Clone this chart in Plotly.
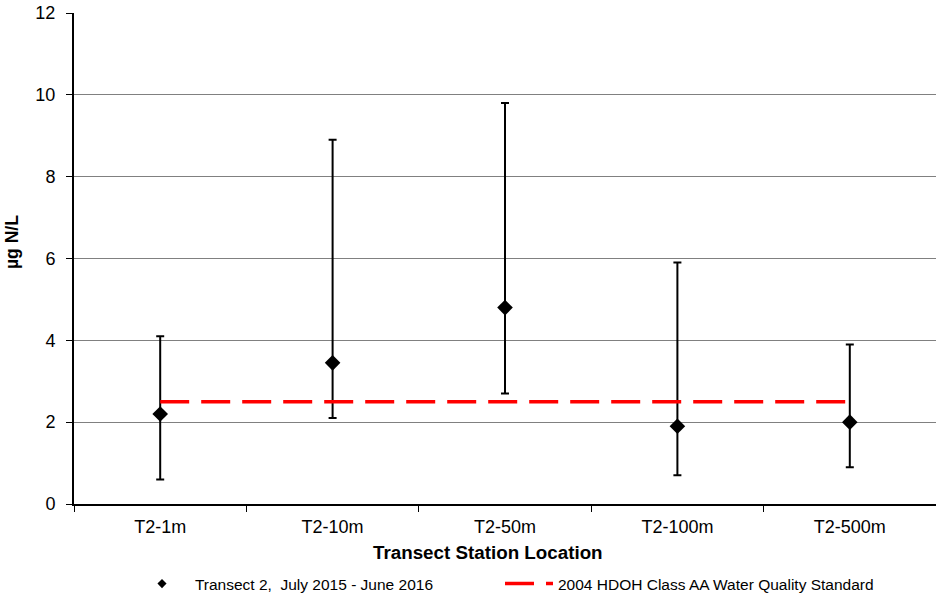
import plotly.graph_objects as go

stations = ["T2-1m", "T2-10m", "T2-50m", "T2-100m", "T2-500m"]
mean_vals = [2.2, 3.45, 4.8, 1.9, 2.0]
min_vals = [0.6, 2.1, 2.7, 0.7, 0.9]
max_vals = [4.1, 8.9, 9.8, 5.9, 3.9]
standard = [2.5, 2.5, 2.5, 2.5, 2.5]
y_ticks = [0, 2, 4, 6, 8, 10, 12]

FONT = "Arial, 'Liberation Sans', sans-serif"
NB = "\u00a0"

W, H = 936, 599
PL, PT, PB = 74, 13, 504          # plot edges in pixels

fig = go.Figure()
fig.add_trace(go.Scatter(
    x=stations, y=mean_vals, mode="markers", showlegend=False,
    marker=dict(symbol="diamond", size=12, color="black"),
    error_y=dict(type="data", symmetric=False,
                 array=[mx - m for mx, m in zip(max_vals, mean_vals)],
                 arrayminus=[m - mn for m, mn in zip(mean_vals, min_vals)],
                 color="black", thickness=2, width=4),
))
fig.add_trace(go.Scatter(
    x=[None], y=[None], mode="markers", legend="legend",
    name=NB * 3 + "Transect 2,  July 2015 - June 2016",
    marker=dict(symbol="diamond", size=7, color="black"),
))
fig.add_trace(go.Scatter(
    x=stations, y=standard, mode="lines", legend="legend2",
    name="2004 HDOH Class AA Water Quality Standard",
    line=dict(color="#ff0000", width=3.5, dash="29px,12px"),
))

leg_common = dict(orientation="h", xref="container", yref="container",
                  xanchor="left", yanchor="middle",
                  font=dict(size=15.5), bgcolor="rgba(0,0,0,0)")
leg_y = 1 - 584 / H

plot_h = PB - PT
fig.update_layout(
    width=W, height=H,
    margin=dict(l=PL, r=0, t=PT, b=H - PB, autoexpand=False),
    plot_bgcolor="white", paper_bgcolor="white",
    font=dict(family=FONT, size=18, color="black"),
    showlegend=True,
    legend=dict(x=142 / W, y=leg_y, itemwidth=30, **leg_common),
    legend2=dict(x=500 / W, y=leg_y, itemwidth=48, **leg_common),
    annotations=[
        dict(text="<b>µg N/L</b>", textangle=-90, xref="paper", yref="paper",
             x=0, y=(PB - 242) / plot_h, xshift=-(PL - 12),
             xanchor="center", yanchor="middle", showarrow=False,
             font=dict(size=17.5)),
        dict(text="<b>Transect Station Location</b>", xref="paper", yref="paper",
             x=0, xshift=488 - PL, y=0, yshift=-(552 - PB),
             xanchor="center", yanchor="middle", showarrow=False,
             font=dict(size=18.8)),
    ],
)
fig.update_xaxes(
    type="category", range=[-0.5, 4.5], automargin=False,
    showline=True, linecolor="black", linewidth=2,
    ticks="outside", tickson="boundaries", ticklen=6, tickcolor="black", tickwidth=1,
    tickfont=dict(size=18), ticklabelstandoff=5,
    showgrid=False, zeroline=False,
)
fig.update_yaxes(
    range=[0, 12], tickvals=y_ticks, automargin=False,
    showline=True, linecolor="black", linewidth=2,
    ticks="outside", ticklen=6, tickcolor="black", tickwidth=1,
    tickfont=dict(size=18), ticklabelstandoff=7, ticklabeloverflow="allow",
    showgrid=True, gridcolor="#808080", gridwidth=1, zeroline=False,
)

# remove the browser's default 8px body margin so the figure sits at the page origin
fig.write_html("out.html", config={"displayModeBar": False},
               post_script="document.body.style.margin='0px';")
